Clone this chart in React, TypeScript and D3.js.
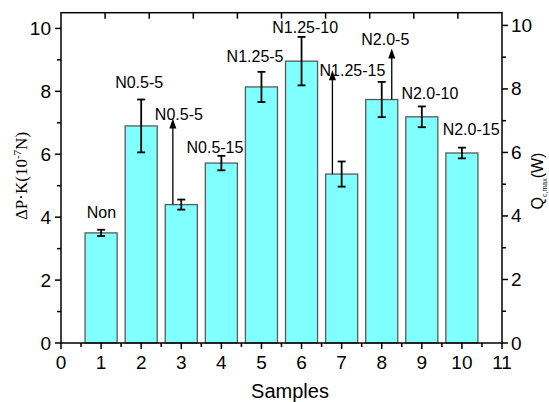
import React from "react";
import { scaleLinear, range } from "d3";

// bar values
const samples = [1, 2, 3, 4, 5, 6, 7, 8, 9, 10];
const values = [3.5, 6.9, 4.4, 5.72, 8.14, 8.96, 5.37, 7.74, 7.19, 6.04];
const errors = [0.1, 0.84, 0.16, 0.23, 0.48, 0.77, 0.4, 0.56, 0.33, 0.17];

// annotation labels (x in sample units, y in left-axis units)
const labelText = ["Non", "N0.5-5", "N0.5-5", "N0.5-15", "N1.25-5", "N1.25-10", "N1.25-15", "N2.0-5", "N2.0-10", "N2.0-15"];
const labelX = [1.01, 1.95, 2.94, 3.84, 4.84, 6.09, 7.27, 8.09, 9.2, 10.23];
const labelY = [3.97, 8.1, 7.09, 6.04, 8.92, 9.84, 8.49, 9.47, 7.76, 6.61];

// arrows pointing up from bars
const arrowX = [2.79, 6.77, 8.25];
const arrowFrom = [4.4, 5.37, 7.74];
const arrowTo = [7.14, 8.67, 9.36];

const xTicks = [0, 1, 2, 3, 4, 5, 6, 7, 8, 9, 10, 11];
const yTicks = [0, 2, 4, 6, 8, 10];

const W = 549;
const H = 402;
const left = 61, right = 502, top = 12.7, bottom = 343;
const sans = "'Liberation Sans', Arial, sans-serif";
const serif = "'Liberation Serif', 'Times New Roman', serif";

const App = () => {
    const x = scaleLinear().domain([0, 11]).range([left, right]);
    const xTop = scaleLinear().domain([0, 10]).range([left, right]);
    const y = scaleLinear().domain([0, 10.5]).range([bottom, top]);
    const yR = scaleLinear().domain([0, 10.4]).range([bottom, top]);
    const bw = x(0.8) - x(0);

    return (
        <svg width={W} height={H} style={{ position: "absolute", left: 0, top: 0 }} fontFamily={sans}>
            <rect x={0} y={0} width={W} height={H} fill="white" />

            {/* bars */}
            {samples.map((s, i) => (
                <rect key={i} x={x(s) - bw / 2} y={y(values[i])} width={bw} height={bottom - y(values[i])}
                    fill="#80ffff" stroke="#5a5a5a" strokeWidth={1.3} />
            ))}

            {/* error bars */}
            {samples.map((s, i) => {
                const hi = y(values[i] + errors[i]);
                const lo = y(values[i] - errors[i]);
                return (
                    <g key={i} stroke="black" strokeWidth={1.8}>
                        <line x1={x(s)} x2={x(s)} y1={hi} y2={lo} />
                        <line x1={x(s) - 4} x2={x(s) + 4} y1={hi} y2={hi} />
                        <line x1={x(s) - 4} x2={x(s) + 4} y1={lo} y2={lo} />
                    </g>
                );
            })}

            {/* arrows */}
            {arrowX.map((a, i) => {
                const ax = x(a);
                const y0 = y(arrowFrom[i]);
                const y1 = y(arrowTo[i]);
                return (
                    <g key={i}>
                        <line x1={ax} x2={ax} y1={y0} y2={y1 + 8} stroke="black" strokeWidth={1.3} />
                        <path d={`M${ax},${y1} L${ax - 3.5},${y1 + 10} L${ax + 3.5},${y1 + 10} Z`} fill="black" />
                    </g>
                );
            })}

            {/* labels */}
            {labelText.map((t, i) => (
                <text key={i} x={x(labelX[i])} y={y(labelY[i])} textAnchor="middle" fontSize={16}>{t}</text>
            ))}

            {/* frame */}
            <rect x={left} y={top} width={right - left} height={bottom - top} fill="none" stroke="black" strokeWidth={1.5} />

            {/* bottom axis */}
            {xTicks.map((t) => (
                <g key={t}>
                    <line x1={x(t)} x2={x(t)} y1={bottom} y2={bottom + 6} stroke="black" strokeWidth={1.5} />
                    <text x={x(t)} y={369} textAnchor="middle" fontSize={19}>{t}</text>
                </g>
            ))}
            {range(0.5, 11, 1).map((t) => (
                <line key={t} x1={x(t)} x2={x(t)} y1={bottom} y2={bottom + 4} stroke="black" strokeWidth={1.5} />
            ))}

            {/* top axis, inward ticks */}
            {range(1, 10).map((t) => (
                <line key={t} x1={xTop(t)} x2={xTop(t)} y1={top} y2={top + 6} stroke="black" strokeWidth={1.5} />
            ))}

            {/* left axis */}
            {yTicks.map((t) => (
                <g key={t}>
                    <line x1={left - 6} x2={left} y1={y(t)} y2={y(t)} stroke="black" strokeWidth={1.5} />
                    <text x={left - 10} y={y(t) + 6.5} textAnchor="end" fontSize={19}>{t}</text>
                </g>
            ))}
            {range(1, 10, 2).map((t) => (
                <line key={t} x1={left - 4} x2={left} y1={y(t)} y2={y(t)} stroke="black" strokeWidth={1.5} />
            ))}

            {/* right axis */}
            {yTicks.map((t) => (
                <g key={t}>
                    <line x1={right} x2={right + 6} y1={yR(t)} y2={yR(t)} stroke="black" strokeWidth={1.5} />
                    <text x={right + 9} y={yR(t) + 6.5} textAnchor="start" fontSize={19}>{t}</text>
                </g>
            ))}
            {range(1, 10, 2).map((t) => (
                <line key={t} x1={right} x2={right + 4} y1={yR(t)} y2={yR(t)} stroke="black" strokeWidth={1.5} />
            ))}

            {/* axis titles */}
            <text x={290} y={398} textAnchor="middle" fontSize={20}>Samples</text>
            <text transform={`translate(27, 176) rotate(-90)`} textAnchor="middle" fontSize={17} fontFamily={serif}>
                ΔP·K(10<tspan dy={-6} fontSize={11}>-7</tspan><tspan dy={6}>N)</tspan>
            </text>
            <text transform={`translate(543, 181) rotate(-90)`} textAnchor="middle" fontSize={16}>
                Q<tspan dy={4} fontSize={7}>c,max</tspan><tspan dy={-4}>(W)</tspan>
            </text>
        </svg>
    );
};

export default App;
